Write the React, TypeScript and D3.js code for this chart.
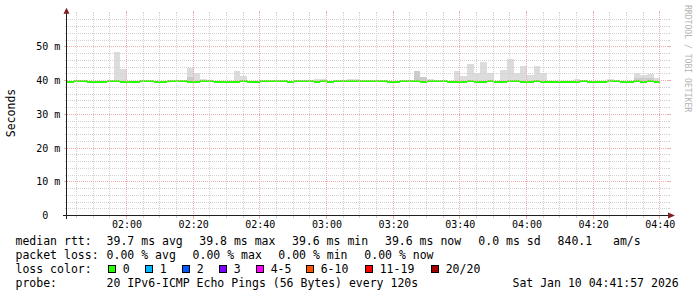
import React from "react";
import * as d3 from "d3";

// ---------- data ----------
const START_MIN = 102; // 01:42
const END_MIN = 282; // 04:42
const STEP_MIN = 2; // 120 s
const Y_MAX = 59.8;

// median rtt (ms) per 2-minute step starting at 01:42
const MEDIAN_MS = [
  39.6, 39.8, 39.8, 39.6, 39.6, 39.6, 39.8, 39.8, 39.6, 39.6,
  39.6, 39.8, 39.8, 39.6, 39.6, 39.8, 39.8, 39.8, 39.6, 39.6,
  39.8, 39.8, 39.6, 39.6, 39.6, 39.6, 39.8, 39.6, 39.6, 39.8,
  39.8, 39.8, 39.8, 39.6, 39.8, 39.8, 39.8, 39.6, 39.8, 39.6,
  39.8, 39.8, 39.8, 39.8, 39.8, 39.8, 39.8, 39.8, 39.6, 39.6,
  39.8, 39.8, 39.8, 39.6, 39.8, 39.8, 39.8, 39.6, 39.6, 39.6,
  39.8, 39.6, 39.6, 39.8, 39.6, 39.6, 39.8, 39.8, 39.6, 39.6,
  39.8, 39.6, 39.6, 39.6, 39.6, 39.6, 39.6, 39.8, 39.6, 39.6,
  39.6, 39.8, 39.8, 39.6, 39.6, 39.8, 39.6, 39.8, 39.6,
];

// top of smoke (slowest ping, ms); 0 = no smoke
const SMOKE_TOP_MS = [
  0, 40.2, 0, 0, 0, 0, 0, 48.4, 43.4, 0,
  0, 0, 0, 0, 0, 0, 0, 0, 43.8, 42.2,
  40.4, 0, 0, 0, 0, 42.8, 41.3, 0, 0, 0,
  0, 0, 0, 0, 0, 0, 0, 40.4, 40.4, 0,
  0, 0, 40.4, 40.4, 0, 0, 0, 0, 0, 0,
  0, 0, 42.8, 41.0, 40.4, 0, 0, 0, 42.8, 41.4,
  44.9, 42.2, 45.5, 42.2, 0, 43.1, 46.4, 42.2, 44.3, 41.7,
  44.3, 42.2, 0, 0, 0, 0, 40.4, 0, 0, 0,
  0, 40.4, 0, 0, 0, 42.2, 41.7, 42.0, 40.8,
];

// denser (darker) smoke part; 0 = none
const SMOKE_DENSE_MS = [
  0, 0, 0, 0, 0, 0, 0, 0, 0, 0,
  0, 0, 0, 0, 0, 0, 0, 0, 40.9, 0,
  0, 0, 0, 0, 0, 0, 0, 0, 0, 0,
  0, 0, 0, 0, 0, 0, 0, 0, 0, 0,
  0, 0, 0, 0, 0, 0, 0, 0, 0, 0,
  0, 0, 42.8, 41.0, 0, 0, 0, 0, 0, 0,
  0, 0, 0, 0, 0, 0, 0, 0, 0, 0,
  0, 0, 0, 0, 0, 0, 0, 0, 0, 0,
  0, 0, 0, 0, 0, 40.8, 40.8, 40.8, 0,
];

const Y_TICKS = [0, 10, 20, 30, 40, 50];
const Y_TICK_LABELS = ["0  ", "10 m", "20 m", "30 m", "40 m", "50 m"];
const X_TICKS = [120, 140, 160, 180, 200, 220, 240, 260, 280];
const X_TICK_LABELS = ["02:00", "02:20", "02:40", "03:00", "03:20", "03:40", "04:00", "04:20", "04:40"];

const RTT_LABEL = "median rtt:";
const RTT_ITEMS = ["39.7 ms avg", "39.8 ms max", "39.6 ms min", "39.6 ms now", "0.0 ms sd", "840.1   am/s"];
const LOSS_LABEL = "packet loss:";
const LOSS_ITEMS = ["0.00 % avg", "0.00 % max", "0.00 % min", "0.00 % now"];
const LOSS_COLOR_LABEL = "loss color:";
const LOSS_NAMES = ["0", "1", "2", "3", "4-5", "6-10", "11-19", "20/20"];
const LOSS_COLORS = ["#26ff00", "#00b8ff", "#0059ff", "#7e00ff", "#ff00ff", "#ff5500", "#ff0000", "#a10000"];
const PROBE_LABEL = "probe:";
const PROBE_TEXT = "20 IPv6-ICMP Echo Pings (56 Bytes) every 120s";
const TIMESTAMP = "Sat Jan 10 04:41:57 2026";
const Y_TITLE = "Seconds";
const WATERMARK = "RRDTOOL / TOBI OETIKER";

// ---------- layout ----------
const X0 = 67, X1 = 667, Y0 = 215.5, Y1 = 13.7;
const RTT_X = [106.6, 199.3, 292, 385, 478.3, 557.6];
const LOSS_X = [106.6, 192.6, 278.3, 364.3];
const BOX_X = [108.5, 145.5, 182.5, 219.5, 256.5, 306.5, 365.5, 431.5];
const MONO = "'DejaVu Sans Mono', monospace";
const GRID = "#d2d2d2";
const MGRID = "#efaeae";

export default function App() {
  const x = d3.scaleLinear().domain([START_MIN, END_MIN]).range([X0, X1]);
  const y = d3.scaleLinear().domain([0, Y_MAX]).range([Y0, Y1]);
  const swidth = Y_MAX / 200;
  const steps = MEDIAN_MS.map((m, i) => ({ t: START_MIN + i * STEP_MIN, m, top: SMOKE_TOP_MS[i], dense: SMOKE_DENSE_MS[i] }));

  const hy = (v: number) => Math.round(y(v) - 0.5) + 0.5;
  const vx = (t: number) => Math.round(x(t)) - 0.5;

  const hMinor = d3.range(2, Y_MAX, 2).filter((v) => v % 10 !== 0);
  const hMajor = d3.range(10, Y_MAX, 10);
  const vAll = d3.range(105, END_MIN, 5);
  const vMinor = vAll.filter((t) => t % 20 !== 0);
  const vMajor = vAll.filter((t) => t % 20 === 0);

  const xl = X0 - 0.5;
  const xr = X1 + 0.5;

  return (
    <svg width={697} height={297} style={{ position: "absolute", left: 0, top: 0 }} xmlns="http://www.w3.org/2000/svg">
      <rect x={0} y={0} width={697} height={297} fill="#ffffff" />

      {/* smoke */}
      <g shapeRendering="crispEdges">
        {steps.filter((s) => s.top > 0).map((s, i) => (
          <rect key={"s" + i} x={x(s.t)} width={x(s.t + STEP_MIN) - x(s.t)} y={y(s.top)} height={y(s.m) - y(s.top)} fill="#dcdcdc" />
        ))}
        {steps.filter((s) => s.dense > 0).map((s, i) => (
          <rect key={"d" + i} x={x(s.t)} width={x(s.t + STEP_MIN) - x(s.t)} y={y(s.dense)} height={y(s.m) - y(s.dense)} fill="#cbcbcb" />
        ))}
        {/* median band */}
        {steps.map((s, i) => (
          <rect key={"m" + i} x={x(s.t)} width={x(s.t + STEP_MIN) - x(s.t)} y={y(s.m + swidth)} height={y(s.m - swidth) - y(s.m + swidth)} fill="#26ff00" />
        ))}
      </g>

      {/* grid */}
      <g shapeRendering="crispEdges" strokeWidth={1} fill="none">
        {hMinor.map((v) => (
          <g key={"hm" + v} stroke={GRID}>
            <line x1={xl - 1} x2={xr + 1} y1={hy(v)} y2={hy(v)} strokeDasharray="1,1" />
            <line x1={xl - 2} x2={xl} y1={hy(v)} y2={hy(v)} />
            <line x1={xr} x2={xr + 2} y1={hy(v)} y2={hy(v)} />
          </g>
        ))}
        {vMinor.map((t) => (
          <g key={"vm" + t} stroke={GRID}>
            <line x1={vx(t)} x2={vx(t)} y1={Y0} y2={Y1} strokeDasharray="1,1" />
            <line x1={vx(t)} x2={vx(t)} y1={Y0} y2={Y0 + 2} />
            <line x1={vx(t)} x2={vx(t)} y1={Y1 - 2} y2={Y1} />
          </g>
        ))}
        {hMajor.map((v) => (
          <g key={"hM" + v} stroke={MGRID}>
            <line x1={xl - 2} x2={xr + 2} y1={hy(v)} y2={hy(v)} strokeDasharray="1,1" />
            <line x1={xl - 3} x2={xl} y1={hy(v)} y2={hy(v)} />
            <line x1={xr} x2={xr + 3} y1={hy(v)} y2={hy(v)} />
          </g>
        ))}
        {vMajor.map((t) => (
          <g key={"vM" + t} stroke={MGRID}>
            <line x1={vx(t)} x2={vx(t)} y1={Y0} y2={Y1} strokeDasharray="1,1" />
            <line x1={vx(t)} x2={vx(t)} y1={Y0} y2={Y0 + 3} />
            <line x1={vx(t)} x2={vx(t)} y1={Y1 - 3} y2={Y1} />
          </g>
        ))}
      </g>

      {/* axes */}
      <g shapeRendering="crispEdges">
        <line x1={X0 - 4} x2={X1 + 2} y1={Y0} y2={Y0} stroke="#1f1f1f" />
        <line x1={xl} x2={xl} y1={Y0 + 3} y2={Y1 - 1} stroke="#1f1f1f" />
      </g>
      <path d={`M${X1 + 1},${Y0 - 3}L${X1 + 8},${Y0}L${X1 + 1},${Y0 + 3}Z`} fill="#801f1f" />
      <path d={`M${xl - 3},${Y1}L${xl},${Y1 - 6}L${xl + 3},${Y1}Z`} fill="#801f1f" />

      {/* y tick labels */}
      <g fontFamily={MONO} fontSize={10} fill="#000">
        {Y_TICKS.map((v, i) => (
          <text key={"yl" + v} x={60.3} y={y(v) + 3.6} textAnchor="end" xmlSpace="preserve" style={{ whiteSpace: "pre" }}>
            {Y_TICK_LABELS[i]}
          </text>
        ))}
        {X_TICKS.map((t, i) => (
          <text key={"xl" + t} x={x(t)} y={228} textAnchor="middle">
            {X_TICK_LABELS[i]}
          </text>
        ))}
      </g>

      {/* y title */}
      <text transform="translate(14.5,113) rotate(-90)" textAnchor="middle" fontFamily={MONO} fontSize={11.5} fill="#000">
        {Y_TITLE}
      </text>

      {/* watermark */}
      <text transform="translate(685,5) rotate(90)" fontFamily={MONO} fontSize={8.1} fill="#b4b4b4">
        {WATERMARK}
      </text>

      {/* legend */}
      <g fontFamily={MONO} fontSize={11.5} fill="#000" style={{ whiteSpace: "pre" }}>
        <text x={15.5} y={245}>{RTT_LABEL}</text>
        {RTT_ITEMS.map((s, i) => (
          <text key={"r" + i} x={RTT_X[i]} y={245} xmlSpace="preserve">{s}</text>
        ))}
        <text x={15.5} y={259}>{LOSS_LABEL}</text>
        {LOSS_ITEMS.map((s, i) => (
          <text key={"l" + i} x={LOSS_X[i]} y={259} xmlSpace="preserve">{s}</text>
        ))}
        <text x={15.5} y={273}>{LOSS_COLOR_LABEL}</text>
        {LOSS_NAMES.map((s, i) => (
          <g key={"lc" + i}>
            <rect x={BOX_X[i]} y={265.5} width={7} height={7} fill={LOSS_COLORS[i]} stroke="#000" shapeRendering="crispEdges" />
            <text x={BOX_X[i] + 14.2} y={273}>{s}</text>
          </g>
        ))}
        <text x={15.5} y={287}>{PROBE_LABEL}</text>
        <text x={106.6} y={287}>{PROBE_TEXT}</text>
        <text x={512.5} y={287}>{TIMESTAMP}</text>
      </g>
    </svg>
  );
}
